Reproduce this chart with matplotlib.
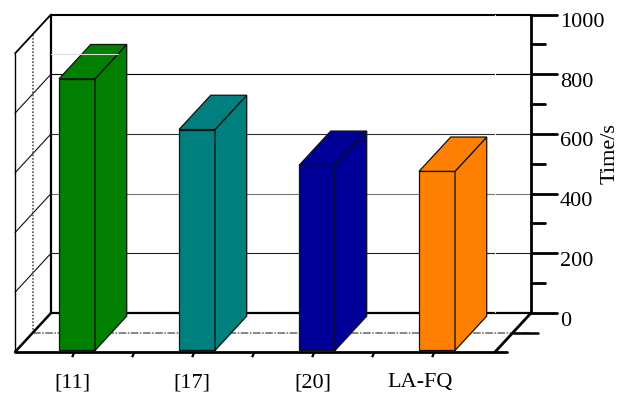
import matplotlib
matplotlib.use("Agg")
import matplotlib.pyplot as plt
from matplotlib.patches import Polygon

plt.rcParams['font.family'] = ['Liberation Serif', 'DejaVu Serif']

methods = ['[11]', '[17]', '[20]', 'LA-FQ']
times = [910, 740, 620, 600]
bar_colors = ['#007f00', '#007f7f', '#000099', '#ff8000']
y_major = [0, 200, 400, 600, 800, 1000]
y_minor = [100, 300, 500, 700, 900]
grid_values = [200, 400, 600, 800]
grid_colors = ['#222222', '#777777', '#333333', '#000000']
label_nudge = [-3, -3, -2, -15]

PX_X = 120.0     # pixels per category
PX_Y = 0.2985    # pixels per time unit
DEPTH_X = 36 / PX_X
DEPTH_Y = 39 / PX_Y

fig = plt.figure(figsize=(6.19, 3.93), dpi=100)
ax = fig.add_axes([0, 0, 1, 1])
ax.set_xlim(-15 / PX_X, (619 - 15) / PX_X)
ax.set_ylim(-(393 - 352) / PX_Y, 352 / PX_Y)
ax.axis('off')


def proj(cat, val, depth=0.0):
    # oblique projection, depth 0 is the front of the floor and 1 the back wall
    return cat + depth * DEPTH_X, val + depth * DEPTH_Y


def line3d(p0, p1, lw=1.0, color='black', z=2, **kw):
    a = proj(*p0)
    b = proj(*p1)
    ax.plot([a[0], b[0]], [a[1], b[1]], lw=lw, color=color, zorder=z,
            solid_capstyle='round', **kw)


n = len(methods)

# grid on back wall and left wall
for v, c in zip(grid_values, grid_colors):
    line3d((0, v, 1), (n, v, 1), lw=0.8, color=c)
    line3d((0, v, 0), (0, v, 1), lw=0.8, color='#111111')

# gaps left in the gridlines where the front plane passes
ax.plot([n, n], [proj(n, 0, 1)[1] + 5, proj(n, 1000, 1)[1]], lw=0.7,
        color='white', zorder=2.5)

# mid-depth guides
line3d((0, 0, 0.5), (0, 1000, 0.5), lw=1.2, color='#555555', linestyle=(0, (1, 1)))
line3d((0, 0, 0.5), (n + 0.15, 0, 0.5), lw=1.1, color='#666666', linestyle=(0, (5, 1, 1, 1)))

# box outline
line3d((0, 0, 1), (0, 1000, 1), lw=1.6)
line3d((0, 1000, 1), (n, 1000, 1), lw=1.5)
line3d((0, 0, 1), (n, 0, 1), lw=1.6)
line3d((0, 0, 0), (0, 1000, 0), lw=1.0)
line3d((0, 1000, 0), (0, 1000, 1), lw=1.3)
line3d((0, 0, 0), (0, 0, 1), lw=1.8)
line3d((n, 0, 0), (n, 0, 1), lw=2.0)
line3d((0, 0, 0), (n + 0.1, 0, 0), lw=2.0, z=5)

# category ticks along the front edge
for i in range(1, n * 2):
    cat = i * 0.5
    ax.plot([cat - 0.008, cat - 0.02], [proj(cat, 0)[1] - 3, proj(cat, 0)[1] - 14],
            lw=1.6, color='black', zorder=5)

# depth ticks on the right of the floor
line3d((n, 0, 0.5), (n + 0.21, 0, 0.5), lw=1.8)

# value axis on the right of the back wall
line3d((n, 0, 1), (n, 1000, 1), lw=2.0, z=6)
for v in y_major:
    line3d((n, v, 1), (n + 26 / PX_X, v, 1), lw=2.0, z=6)
for v in y_minor:
    line3d((n, v, 1), (n + 14 / PX_X, v, 1), lw=2.0, z=6)
for v in y_major:
    ax.annotate(str(v), proj(n + 29 / PX_X, v, 1), xytext=(0, -8),
                textcoords='offset pixels', ha='left', va='center', fontsize=16)

# bars
d0, d1 = 0.04, 0.92
half = 0.15
for i, (val, col) in enumerate(zip(times, bar_colors)):
    c = i + 0.5 + 0.005
    l, r = c - half, c + half
    faces = [
        [(l, 0, d0), (r, 0, d0), (r, val, d0), (l, val, d0)],
        [(r, 0, d0), (r, 0, d1), (r, val, d1), (r, val, d0)],
        [(l, val, d0), (r, val, d0), (r, val, d1), (l, val, d1)],
    ]
    for f in faces:
        ax.add_patch(Polygon([proj(*p) for p in f], closed=True, facecolor=col,
                             edgecolor='#111111', lw=0.9, zorder=4))
    ax.annotate(methods[i], (i + 0.5, -103), xytext=(label_nudge[i], 0),
                textcoords='offset pixels', ha='center', va='center', fontsize=16)

# pale top edge of the front plane over the first bar
line3d((0.3, 1000, 0), (0.855, 1000, 0), lw=0.8, color='#dddddd', z=4.5)

ax.text(610 / PX_X - 15 / PX_X, (352 - 154) / PX_Y, 'Time/s', rotation=90, ha='center',
        va='center', fontsize=16)

fig.savefig('out.png', dpi=100)
